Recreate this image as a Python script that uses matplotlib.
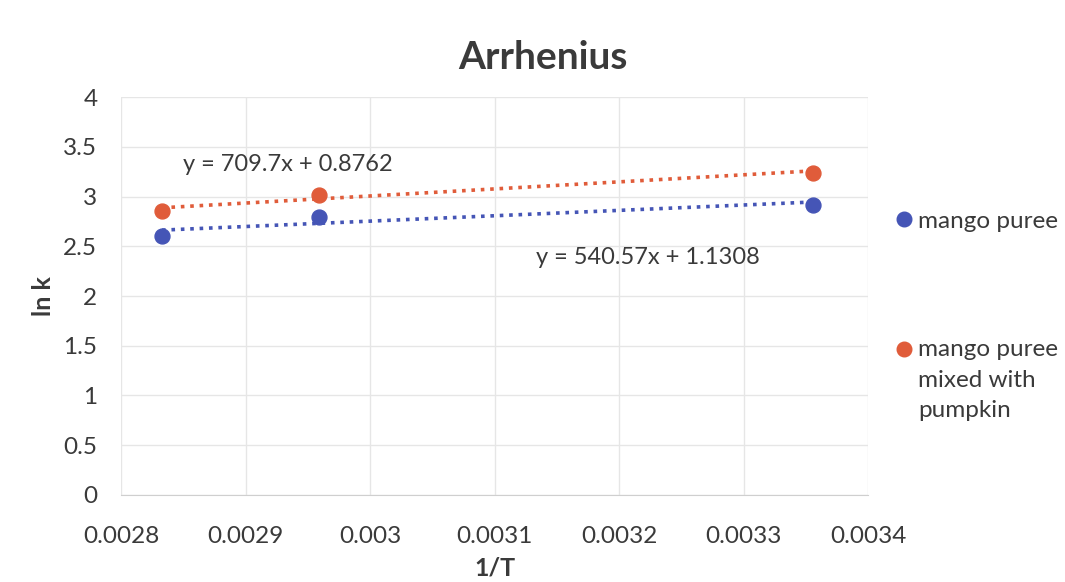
import numpy as np
import matplotlib.pyplot as plt
from matplotlib.lines import Line2D

# ------------------------------------------------------------
# dados
inv_T = [0.002833, 0.002959, 0.003356]
lnk_mango = [2.60, 2.79, 2.91]
lnk_mix = [2.85, 3.02, 3.24]

# linhas de tendência (equações mostradas no gráfico)
fit_mango = (540.57, 1.1308)
fit_mix = (709.7, 0.8762)

series_names = ["mango puree", "mango puree\nmixed with\npumpkin"]
x_ticks = [0.0028, 0.0029, 0.003, 0.0031, 0.0032, 0.0033, 0.0034]
x_tick_labels = ["0.0028", "0.0029", "0.003", "0.0031", "0.0032", "0.0033", "0.0034"]
y_ticks = [0, 0.5, 1, 1.5, 2, 2.5, 3, 3.5, 4]
y_tick_labels = ["0", "0.5", "1", "1.5", "2", "2.5", "3", "3.5", "4"]

COR_AZUL = "#4555b6"
COR_LARANJA = "#e05c3a"
COR_TEXTO = "#3a3a3a"

plt.rcParams["font.family"] = ["Lato", "DejaVu Sans"]

fig = plt.figure(figsize=(10.65, 5.82), dpi=100)
ax = fig.add_axes([0.1136, 0.1495, 0.7015, 0.6838])

# trendlines
x_fit = np.array([inv_T[0], inv_T[-1]])
ax.plot(x_fit, fit_mango[0] * x_fit + fit_mango[1], color=COR_AZUL,
        linestyle=(0, (1, 1.6)), linewidth=2.6, zorder=2)
ax.plot(x_fit, fit_mix[0] * x_fit + fit_mix[1], color=COR_LARANJA,
        linestyle=(0, (1, 1.6)), linewidth=2.6, zorder=2)

# pontos
ax.scatter(inv_T, lnk_mango, s=115, color=COR_AZUL, zorder=3)
ax.scatter(inv_T, lnk_mix, s=115, color=COR_LARANJA, zorder=3)

# equações
ax.text(0.00285, 3.32, "y = 709.7x + 0.8762", fontsize=17,
        color=COR_TEXTO, va="center", ha="left")
ax.text(0.003133, 2.39, "y = 540.57x + 1.1308", fontsize=17,
        color=COR_TEXTO, va="center", ha="left")

ax.set_xlim(0.0028, 0.0034)
ax.set_ylim(0, 4)
ax.set_xticks(x_ticks)
ax.set_xticklabels(x_tick_labels)
ax.set_yticks(y_ticks)
ax.set_yticklabels(y_tick_labels)
ax.tick_params(axis="both", length=0, labelsize=17.5, labelcolor=COR_TEXTO)
ax.tick_params(axis="x", pad=22)
ax.tick_params(axis="y", pad=17)

ax.grid(True, color="#e6e6e6", linewidth=1)
ax.set_axisbelow(True)
for lado in ["top", "right", "left"]:
    ax.spines[lado].set_visible(False)
ax.spines["bottom"].set_color("#cfcfcf")

ax.set_xlabel("1/T", fontsize=18, fontweight="bold", color=COR_TEXTO, labelpad=7)
ax.set_ylabel("ln k", fontsize=18, fontweight="bold", color=COR_TEXTO, labelpad=6)

fig.text(0.51, 0.902, "Arrhenius", fontsize=28, fontweight="bold",
         color=COR_TEXTO, ha="center", va="center")

# legenda (duas entradas separadas)
h1 = Line2D([], [], marker="o", linestyle="none", markersize=10.5, color=COR_AZUL)
h2 = Line2D([], [], marker="o", linestyle="none", markersize=10.5, color=COR_LARANJA)
leg1 = fig.legend([h1], [series_names[0]], loc="center left",
                  bbox_to_anchor=(0.839, 1 - 221 / 582), frameon=False,
                  fontsize=17.5, handletextpad=0.1, borderaxespad=0,
                  handlelength=0.9, borderpad=0)
leg2 = fig.legend([h2], [series_names[1]], loc="upper left",
                  bbox_to_anchor=(0.839, 1 - 339 / 582), frameon=False,
                  fontsize=17.5, handletextpad=0.1, borderaxespad=0,
                  handlelength=0.9, handleheight=1.1, borderpad=0)
for leg in (leg1, leg2):
    for t in leg.get_texts():
        t.set_color(COR_TEXTO)
        t.set_linespacing(1.56)
# marcador alinhado com a primeira linha do rótulo
for col in leg2._legend_handle_box.get_children():
    for linha in col.get_children():
        linha.align = "top"

fig.savefig("out.png", dpi=100)
